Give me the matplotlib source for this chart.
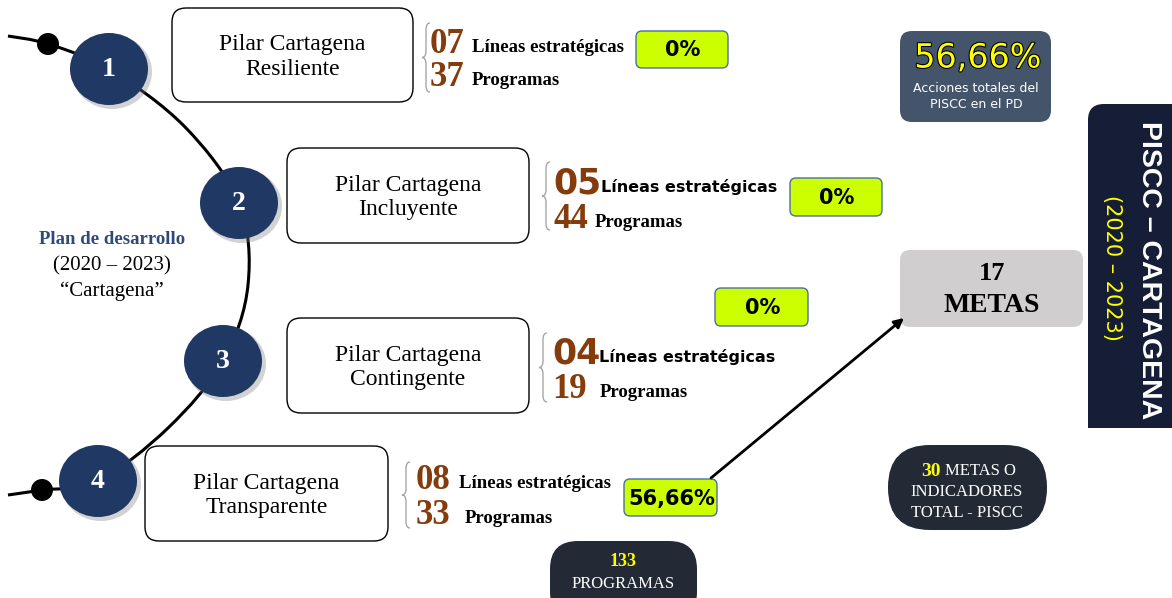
import matplotlib
matplotlib.use("Agg")
import matplotlib.pyplot as plt
import matplotlib.patheffects as pe
from matplotlib.patches import FancyBboxPatch, Ellipse, Rectangle, PathPatch
from matplotlib.path import Path

# datos del plan
pilares = ["Resiliente", "Incluyente", "Contingente", "Transparente"]
lineas = [7, 5, 4, 8]
programas = [37, 44, 19, 33]
avance = [0, 0, 0, 56.66]
total_programas = 133
total_metas = 30
metas_pd = 17
acciones_pd = 56.66

SERIF = "Liberation Serif"
SANS = "DejaVu Sans"
NAVY = "#203864"
BROWN = "#843C0C"
GREEN = "#CCFF00"
DARK = "#232A36"


def pct(v):
    if v == int(v):
        return f"{int(v)}%"
    return f"{v:.2f}%".replace(".", ",")


def rbox(ax, x0, y0, x1, y1, r, fc, ec="none", lw=1.0, z=2):
    p = FancyBboxPatch((x0, y0), x1 - x0, y1 - y0,
                       boxstyle=f"round,pad=0,rounding_size={r}",
                       fc=fc, ec=ec, lw=lw, zorder=z)
    ax.add_patch(p)
    return p


def brace(ax, x, y0, y1, w=8):
    ym = (y0 + y1) / 2
    h = y1 - y0
    verts = [(x + w, y0), (x + w / 2, y0), (x + w / 2, y0 + h * 0.1),
             (x + w / 2, ym - h * 0.1), (x + w / 2, ym), (x, ym),
             (x + w / 2, ym), (x + w / 2, ym + h * 0.1),
             (x + w / 2, y1 - h * 0.1), (x + w / 2, y1), (x + w, y1)]
    codes = [Path.MOVETO, Path.CURVE3, Path.CURVE3, Path.LINETO,
             Path.CURVE3, Path.CURVE3, Path.CURVE3, Path.CURVE3,
             Path.LINETO, Path.CURVE3, Path.CURVE3]
    ax.add_patch(PathPatch(Path(verts, codes), fc="none", ec="#A6A6A6", lw=1.0, zorder=3))


def smooth_path(pts):
    # catmull-rom -> bezier
    verts = [pts[0]]
    codes = [Path.MOVETO]
    n = len(pts)
    for i in range(n - 1):
        p0 = pts[max(i - 1, 0)]
        p1 = pts[i]
        p2 = pts[i + 1]
        p3 = pts[min(i + 2, n - 1)]
        c1 = (p1[0] + (p2[0] - p0[0]) / 6, p1[1] + (p2[1] - p0[1]) / 6)
        c2 = (p2[0] - (p3[0] - p1[0]) / 6, p2[1] - (p3[1] - p1[1]) / 6)
        verts += [c1, c2, p2]
        codes += [Path.CURVE4] * 3
    return Path(verts, codes)


fig = plt.figure(figsize=(11.72, 5.98), dpi=100)
ax = fig.add_axes([0, 0, 1, 1])
ax.set_xlim(0, 1172)
ax.set_ylim(598, 0)
ax.axis("off")

# curva de los pilares
curve = [(8, 36), (48, 44), (109, 69), (185, 127), (239, 203), (248, 285),
         (223, 361), (168, 428), (98, 481), (42, 490), (8, 495)]
ax.add_patch(PathPatch(smooth_path(curve), fc="none", ec="black", lw=2.2, zorder=1))

for dx, dy in [(48, 44), (42, 490)]:
    ax.add_patch(Ellipse((dx, dy), 22, 22, fc="black", ec="none", zorder=2))

circ_xy = [(109, 69), (239, 203), (223, 361), (98, 481)]
for i, (cx, cy) in enumerate(circ_xy):
    ax.add_patch(Ellipse((cx + 3, cy + 3), 80, 74, fc="#7F7F7F", alpha=0.35, ec="none", zorder=3))
    ax.add_patch(Ellipse((cx, cy), 78, 72, fc=NAVY, ec="none", zorder=4))
    ax.text(cx, cy + 1, str(i + 1), color="white", fontsize=20, fontweight="bold",
            family=SERIF, ha="center", va="center", zorder=5)

ax.text(112, 240, "Plan de desarrollo", family=SERIF, fontweight="bold", fontsize=13.5,
        color="#2F4A7A", ha="center", va="center")
ax.text(112, 266, "(2020 \u2013 2023)", family=SERIF, fontsize=15, ha="center", va="center")
ax.text(112, 291, "\u201cCartagena\u201d", family=SERIF, fontsize=15, ha="center", va="center")

# cajas de pilares
boxes = [(172, 8, 413, 102), (287, 148, 529, 243), (287, 318, 529, 413), (145, 446, 388, 541)]
for (x0, y0, x1, y1), name in zip(boxes, pilares):
    rbox(ax, x0, y0, x1, y1, 14, "white", "black", 1.0)
    ax.text((x0 + x1) / 2, (y0 + y1) / 2 + 2, f"Pilar Cartagena\n{name}", family=SERIF,
            fontsize=17, ha="center", va="center", linespacing=1.2, zorder=4)

# llaves con lineas y programas
braces = [(422, 23, 92), (542, 162, 230), (539, 333, 402), (402, 462, 528)]
num_x = [430, 553, 552, 416]
num_y = [(53, 86), (193, 228), (363, 398), (489, 524)]
lab_x = [(472, 472), (601, 595), (599, 600), (459, 465)]
sans_style = [False, True, True, False]
for i in range(4):
    bx, by0, by1 = braces[i]
    brace(ax, bx, by0, by1)
    y_l, y_p = num_y[i]
    if sans_style[i]:
        ax.text(num_x[i], y_l, f"{lineas[i]:02d}", family=SANS, fontweight="bold", fontsize=25,
                color=BROWN, va="baseline", ha="left")
        ax.text(lab_x[i][0], y_l - 1, "L\u00edneas estrat\u00e9gicas", family=SANS,
                fontweight="bold", fontsize=11.5, va="baseline", ha="left")
    else:
        ax.text(num_x[i], y_l, f"{lineas[i]:02d}", family=SERIF, fontweight="bold", fontsize=25,
                color=BROWN, va="baseline", ha="left")
        ax.text(lab_x[i][0], y_l - 1, "L\u00edneas estrat\u00e9gicas", family=SERIF,
                fontweight="bold", fontsize=13.5, va="baseline", ha="left")
    ax.text(num_x[i], y_p, f"{programas[i]:02d}", family=SERIF, fontweight="bold", fontsize=25,
            color=BROWN, va="baseline", ha="left")
    ax.text(lab_x[i][1], y_p - 1, "Programas", family=SERIF, fontweight="bold", fontsize=13.5,
            va="baseline", ha="left")

# cajas verdes de avance
green = [(636, 31, 728, 68), (790, 178, 882, 216), (715, 288, 808, 326), (624, 479, 717, 516)]
for (x0, y0, x1, y1), v in zip(green, avance):
    rbox(ax, x0, y0, x1, y1, 6, GREEN, "#4A6FA5", 1.0)
    ax.text((x0 + x1) / 2 + 1, (y0 + y1) / 2 + 1, pct(v), family=SANS, fontweight="bold",
            fontsize=15, ha="center", va="center", zorder=4)

ax.annotate("", xy=(904, 318), xytext=(711, 478),
            arrowprops=dict(arrowstyle="-|>", color="black", lw=2, mutation_scale=14,
                            shrinkA=0, shrinkB=0), zorder=5)

# metas del PD
rbox(ax, 900, 250, 1083, 327, 10, "#D0CECE")
ax.text(992, 274, str(metas_pd), family=SERIF, fontweight="bold", fontsize=19, ha="center", va="center")
ax.text(992, 306, "METAS", family=SERIF, fontweight="bold", fontsize=20, ha="center", va="center")

# acciones totales
rbox(ax, 900, 31, 1051, 122, 12, "#44546A")
ax.text(978, 58, pct(acciones_pd), family=SANS, fontsize=24, color="#FFFF00", ha="center",
        va="center", zorder=4, path_effects=[pe.withStroke(linewidth=1.5, foreground="black")])
ax.text(976, 96, "Acciones totales del\nPISCC en el PD", family=SANS, fontsize=9,
        color="white", ha="center", va="center", linespacing=1.3, zorder=4)

# banda lateral
rbox(ax, 1088, 104, 1200, 428, 16, "#161D36")
ax.add_patch(Rectangle((1088, 150), 112, 278, fc="#161D36", ec="none", zorder=2))
ax.text(1149, 270, "PISCC \u2013 CARTAGENA", family="Liberation Sans",
        fontweight="bold", fontsize=20.5, color="white", rotation=-90, ha="center", va="center", zorder=4)
ax.text(1112, 268, "(2020 \u2013 2023)", family=SANS, fontsize=15, color="#FFFF00",
        rotation=-90, ha="center", va="center", zorder=4)

# totales
rbox(ax, 888, 445, 1047, 530, 42, DARK)
ax.text(941, 471, str(total_metas), family=SERIF, fontweight="bold", fontsize=14,
        color="#FFFF00", ha="right", va="center", zorder=4)
ax.text(945, 471, "METAS O", family=SERIF, fontsize=12, color="white", ha="left", va="center", zorder=4)
ax.text(967, 492, "INDICADORES", family=SERIF, fontsize=12, color="white", ha="center", va="center", zorder=4)
ax.text(967, 513, "TOTAL - PISCC", family=SERIF, fontsize=12, color="white", ha="center", va="center", zorder=4)

rbox(ax, 550, 541, 697, 620, 28, DARK)
ax.text(623, 561, str(total_programas), family=SERIF, fontweight="bold", fontsize=13,
        color="#FFFF00", ha="center", va="center", zorder=4)
ax.text(623, 584, "PROGRAMAS", family=SERIF, fontsize=12, color="white", ha="center", va="center", zorder=4)

fig.savefig("out.png", dpi=100)
